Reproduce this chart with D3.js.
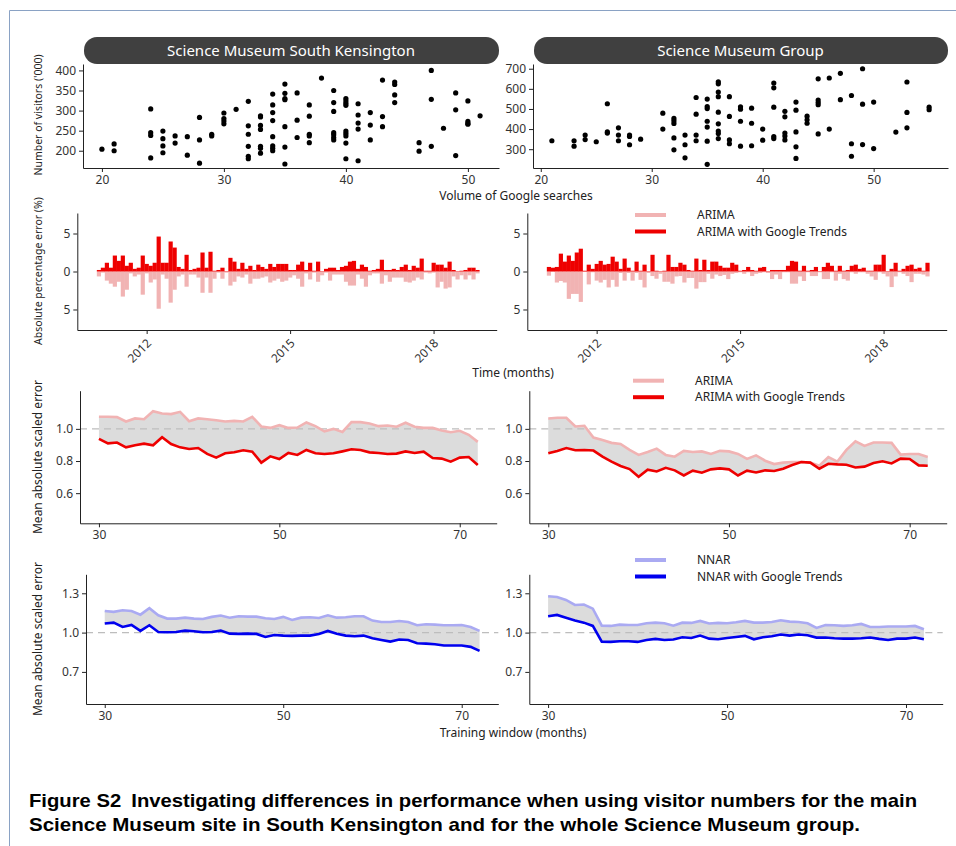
<!DOCTYPE html>
<meta charset="utf-8">
<style>
body { margin: 0; background: #fff; }
text { font-family: "Noto Sans", sans-serif; }
.axis path, .axis line { stroke: #222; }
.axis text { font-size: 12px; fill: #333; font-family: "Noto Sans", sans-serif; }
.title { font-size: 12px; fill: #222; }
.title.small { font-size: 10.5px; }
.legend { font-size: 12px; fill: #222; }
.strip { font-size: 15px; fill: #fff; }
.caption { font-family: "Liberation Sans", sans-serif; font-weight: bold; font-size: 18.5px; fill: #000; }
</style>
<body>
<script src="https://d3js.org/d3.v7.min.js"></script>
<script>

var width = 956, height = 846;

// [volume of Google searches, visitors ('000)]
var skPoints = [[20,204],[21,217],[21,200],[24,304],[24,245],[24,238],[24,182],[25,249],[25,230],[25,212],[25,195],
  [26,237],[26,219],[27,235],[27,189],[28,283],[28,227],[28,169],[29,241],[29,237],[30,294],[30,280],[30,274],[30,267],
  [31,303],[32,323],[32,262],[32,241],[32,211],[32,186],[32,180],[33,287],[33,284],[33,263],[33,253],[33,211],[33,206],[33,194],
  [34,341],[34,314],[34,295],[34,275],[34,235],[34,212],[34,206],[34,200],[35,366],[35,343],[35,330],[35,327],[35,260],[35,209],[35,167],
  [36,344],[36,276],[36,233],[37,314],[37,286],[37,241],[37,237],[37,220],[38,381],
  [39,350],[39,320],[39,298],[39,245],[39,240],[39,233],[39,227],[40,330],[40,324],[40,318],[40,313],[40,249],[40,243],[40,237],[40,219],[40,180],
  [41,317],[41,289],[41,269],[41,254],[41,175],[42,295],[42,264],[42,227],[43,376],[43,285],[43,260],[44,371],[44,365],[44,339],[44,320],
  [46,220],[46,199],[47,400],[47,328],[47,211],[48,256],[49,344],[49,302],[49,188],[50,324],[50,273],[50,268],[50,266],[51,287]];

var groupPoints = [[21,342],[23,342],[23,315],[24,370],[24,348],[25,337],[26,526],[26,386],[26,380],[27,406],[27,370],[27,342],
  [28,370],[28,363],[28,322],[29,350],[31,479],[31,400],[32,453],[32,441],[32,428],[32,356],[32,297],[33,370],[33,322],[33,257],
  [34,557],[34,474],[34,370],[34,342],[35,549],[35,512],[35,502],[35,439],[35,410],[35,340],[35,225],
  [36,635],[36,625],[36,584],[36,561],[36,484],[36,426],[36,390],[36,378],[36,353],[37,561],[37,463],[37,346],[37,327],
  [38,511],[38,499],[38,439],[38,315],[39,504],[39,429],[39,317],[40,400],[40,345],[41,629],[41,605],[41,509],[41,363],[41,353],
  [42,488],[42,461],[42,380],[42,365],[42,346],[43,534],[43,494],[43,386],[43,312],[43,254],[44,464],[44,446],[44,429],
  [45,650],[45,544],[45,532],[45,521],[45,376],[46,654],[46,400],[47,677],[47,546],[48,567],[48,327],[48,265],
  [49,700],[49,524],[49,323],[50,534],[50,303],[52,385],[53,634],[53,483],[53,406],[55,509],[55,496]];

// monthly absolute percentage error, Jan 2011 .. Dec 2018
var skArima = [0.65,0.15,1.2,1.6,2.0,1.35,3.3,2.4,0.25,0.65,0.4,3.05,
  0.25,1.45,1.05,4.9,0.4,0.95,4.1,2.4,0.65,0.4,2.0,0.4,
  0.4,0.8,2.8,0.8,2.8,0.95,0.15,0.95,0.15,1.85,1.35,0.65,
  0.8,0.4,1.6,0.95,0.95,0.8,0.65,1.45,1.2,0.95,1.35,1.2,
  0.8,0.5,0.95,2.0,0.25,1.05,0.15,1.35,0.5,0.15,1.2,0.4,
  0.4,0.4,1.35,1.85,1.85,0.4,0.95,2.0,0.5,0.25,0.25,1.6,
  0.5,1.35,0.8,0.8,0.8,1.35,1.45,1.2,0.8,1.05,0.15,0.25,
  0.15,2.1,1.35,2.25,2.1,0.65,1.05,0.5,1.05,0.5,1.05,0.25];
var skArimaGT = [0.2,0.5,1.15,0.5,2.1,1.4,2.1,0.75,1.15,0.35,0.5,2.1,
  1.0,0.75,1.15,4.6,1.15,1.15,3.95,3.15,0.6,0.35,2.2,0.2,
  0.35,0.5,2.5,0.5,2.6,0.1,0.2,0.5,0.05,1.8,1.3,0.35,
  1.15,0.35,0.75,0.2,0.9,0.6,0.35,1.0,0.6,1.0,1.0,1.0,
  0.2,0.2,0.9,1.3,0.2,1.15,0.1,1.3,0.05,0.35,0.5,0.5,
  0.2,0.6,0.75,1.3,1.4,0.35,0.9,0.6,0.1,0.2,0.35,1.55,
  0.2,0.2,0.35,0.2,0.6,0.9,0.2,0.75,0.5,1.7,0.1,0.1,
  1.15,0.9,0.9,0.5,1.3,0.2,0.05,0.1,0.2,0.5,0.5,0.2];
var groupArima = [0.55,0.05,1.45,1.25,1.45,3.6,2.95,2.95,4.0,0.05,1.7,0.1,
  1.2,1.45,1.1,2.1,1.1,2.0,0.2,1.2,0.2,1.2,0.2,1.1,
  2.1,0.2,0.6,0.95,0.3,1.35,1.35,1.6,0.65,0.6,1.45,0.85,
  0.85,2.25,1.4,1.4,0.3,0.95,0.4,0.6,0.45,1.0,0.3,0.2,
  0.1,0.3,0.1,0.6,0.3,0.2,0.1,0.2,1.0,0.4,1.0,0.1,
  0.1,1.6,1.6,0.65,1.25,0.1,0.6,0.6,0.1,1.0,1.0,0.1,
  1.2,0.3,1.0,1.2,0.1,0.3,0.1,0.1,0.3,0.65,1.1,0.1,
  0.3,0.65,2.05,0.65,0.1,0.3,0.6,1.4,0.3,0.3,0.4,0.65];
var groupArimaGT = [0.6,0.5,0.6,2.35,1.3,2.1,1.4,2.5,3.0,0.1,0.9,0.35,
  1.0,1.4,0.9,1.0,1.95,1.3,0.35,1.7,0.5,0.1,1.3,0.1,
  0.9,0.05,2.2,0.1,0.05,0.1,2.2,0.6,0.6,1.15,0.9,0.2,
  0.1,1.7,0.2,1.55,0.2,1.3,1.3,0.75,0.5,0.5,1.15,0.9,
  0.1,0.2,0.6,0.2,0.1,0.5,0.6,0.05,0.2,0.2,0.2,0.2,
  0.75,1.4,1.3,0.1,0.75,0.1,0.2,0.6,0.05,0.6,1.15,0.75,
  0.1,0.75,0.1,0.2,0.75,0.9,0.35,0.5,0.1,0.1,0.9,0.9,
  2.2,0.05,0.35,1.15,0.1,0.35,0.75,0.9,0.35,0.5,0.1,1.15];

// mean absolute scaled error by training window (30..72 months)
var windows = d3.range(30, 73);
var skMase = [1.075,1.075,1.073,1.046,1.065,1.06,1.11,1.096,1.092,1.106,1.048,1.065,1.06,1.054,1.046,1.05,1.046,1.075,1.015,1.006,
  1.023,1.006,1.008,1.04,1.017,0.985,1.0,0.981,1.042,1.042,1.033,1.017,1.021,1.013,1.038,1.013,1.006,1.006,0.99,0.979,0.988,0.963,0.919];
var skMaseGT = [0.938,0.91,0.915,0.885,0.898,0.908,0.898,0.948,0.906,0.885,0.875,0.881,0.844,0.821,0.848,0.854,0.867,0.858,0.79,0.829,
  0.812,0.85,0.838,0.869,0.848,0.844,0.848,0.86,0.873,0.869,0.854,0.85,0.844,0.846,0.86,0.85,0.858,0.819,0.815,0.796,0.821,0.825,0.775];
var groupMase = [1.065,1.069,1.069,1.015,1.019,0.946,0.931,0.913,0.906,0.869,0.838,0.856,0.877,0.838,0.827,0.863,0.856,0.86,0.844,0.863,
  0.86,0.844,0.813,0.835,0.802,0.781,0.79,0.794,0.794,0.79,0.771,0.825,0.796,0.869,0.923,0.894,0.915,0.915,0.913,0.84,0.844,0.844,0.825];
var groupMaseGT = [0.848,0.863,0.881,0.867,0.869,0.865,0.827,0.796,0.769,0.75,0.702,0.746,0.735,0.758,0.742,0.71,0.74,0.727,0.748,0.754,
  0.748,0.71,0.74,0.729,0.742,0.738,0.752,0.775,0.794,0.79,0.752,0.783,0.779,0.777,0.76,0.765,0.788,0.798,0.785,0.815,0.813,0.773,0.771];
var skNnar = [1.165,1.158,1.17,1.165,1.137,1.186,1.132,1.107,1.107,1.114,1.107,1.104,1.12,1.13,1.114,1.125,1.122,1.122,1.109,1.104,
  1.12,1.097,1.114,1.117,1.112,1.132,1.114,1.117,1.125,1.125,1.092,1.081,1.081,1.089,1.081,1.056,1.064,1.061,1.056,1.056,1.058,1.043,1.013];
var skNnarGT = [1.069,1.076,1.043,1.058,1.013,1.056,1.005,1.003,1.005,1.015,1.01,1.003,1.005,1.015,0.992,0.99,0.992,0.99,0.967,0.982,
  0.977,0.975,0.977,0.977,0.99,1.013,0.992,0.977,0.972,0.977,0.957,0.944,0.931,0.947,0.944,0.919,0.916,0.911,0.901,0.901,0.901,0.891,0.86];
var groupNnar = [1.277,1.272,1.249,1.211,1.214,1.183,1.053,1.051,1.061,1.058,1.058,1.071,1.076,1.071,1.053,1.076,1.074,1.089,1.069,1.074,
  1.071,1.079,1.089,1.076,1.076,1.081,1.094,1.084,1.081,1.071,1.036,1.058,1.056,1.051,1.056,1.066,1.043,1.043,1.046,1.046,1.046,1.051,1.025];
var groupNnarGT = [1.125,1.135,1.114,1.092,1.076,1.051,0.931,0.929,0.934,0.934,0.929,0.944,0.952,0.944,0.947,0.964,0.959,0.977,0.954,0.949,
  0.959,0.967,0.975,0.949,0.964,0.972,0.985,0.977,0.985,0.98,0.962,0.962,0.957,0.954,0.954,0.957,0.962,0.952,0.944,0.954,0.954,0.962,0.949];

var stripTitles = ["Science Museum South Kensington", "Science Museum Group"];
var yearTicks = [2012, 2015, 2018];
var windowTicks = [30, 50, 70];
var arimaLabels = ["ARIMA", "ARIMA with Google Trends"];
var nnarLabels = ["NNAR", "NNAR with Google Trends"];
var captionLines = ["Figure S2\u2002Investigating differences in performance when using visitor numbers for the main",
  "Science Museum site in South Kensington and for the whole Science Museum group."];

var red = "#ee0000", pink = "#f1b3b3", blue = "#0000ee", lightBlue = "#aaaaf2";

var svg = d3.select("body").append("svg")
    .attr("width", width)
    .attr("height", height);

// page frame
svg.append("path")
  .attr("d", "M9.5," + height + "V10.5H" + width)
  .attr("fill", "none")
  .attr("stroke", "#8aa2c4");

function leftAxis(x0, y, ticks, fmt) {
  svg.append("g").attr("class", "axis")
    .attr("transform", "translate(" + x0 + ",0)")
    .call(d3.axisLeft(y).tickValues(ticks).tickFormat(fmt).tickSize(4).tickSizeOuter(0));
}
function bottomAxis(y0, x, ticks, fmt) {
  return svg.append("g").attr("class", "axis")
    .attr("transform", "translate(0," + y0 + ")")
    .call(d3.axisBottom(x).tickValues(ticks).tickFormat(fmt).tickSize(4).tickSizeOuter(0));
}

function scatter(points, box, xDom, yDom, yTicks, xTicks, title) {
  var x = d3.scaleLinear().domain(xDom).range([box.x0, box.x1]);
  var y = d3.scaleLinear().domain(yDom).range([box.y1, box.y0]);
  svg.append("rect")
    .attr("x", box.x0 + 1).attr("y", 37)
    .attr("width", box.x1 - box.x0 - 1).attr("height", 27)
    .attr("rx", 13)
    .attr("fill", "#404040");
  svg.append("text").attr("class", "strip")
    .attr("x", (box.x0 + box.x1) / 2).attr("y", 50.5)
    .attr("dy", "0.35em").attr("text-anchor", "middle")
    .text(title);
  leftAxis(box.x0, y, yTicks, d3.format("d"));
  bottomAxis(box.y1, x, xTicks, d3.format("d"));
  svg.append("g").selectAll("circle")
    .data(points)
    .enter().append("circle")
    .attr("cx", function(d){ return x(d[0]); })
    .attr("cy", function(d){ return y(d[1]); })
    .attr("r", 2.6)
    .attr("fill", "#000");
}

function bars(down, up, box) {
  var x = d3.scaleLinear().domain([2010.55, 2019.32]).range([box.x0, box.x1]);
  var y = d3.scaleLinear().domain([-7.7, 7.7]).range([box.y1, box.y0]);
  var t = function(i){ return 2011 + i / 12; };
  var w = x(t(1)) - x(t(0));
  svg.append("g").selectAll("rect")
    .data(down)
    .enter().append("rect")
    .attr("x", function(d, i){ return x(t(i)) - w / 2; })
    .attr("y", y(0))
    .attr("width", w + 0.2)
    .attr("height", function(d){ return y(-d) - y(0); })
    .attr("fill", pink);
  svg.append("g").selectAll("rect")
    .data(up)
    .enter().append("rect")
    .attr("x", function(d, i){ return x(t(i)) - w / 2; })
    .attr("y", function(d){ return y(d); })
    .attr("width", w + 0.2)
    .attr("height", function(d){ return y(0) - y(d); })
    .attr("fill", red);
  leftAxis(box.x0, y, [-5, 0, 5], function(d){ return Math.abs(d); });
  bottomAxis(box.y1, x, yearTicks, d3.format("d"))
    .selectAll(".tick text")
    .attr("y", 0).attr("dy", 0)
    .attr("text-anchor", "end")
    .attr("transform", "translate(5,14) rotate(-45)");
}

function lines(base, gt, box, yDom, yTicks, colors) {
  var x = d3.scaleLinear().domain([27.9, 74.1]).range([box.x0, box.x1]);
  var y = d3.scaleLinear().domain(yDom).range([box.y1, box.y0]);
  var area = d3.area()
    .x(function(d, i){ return x(windows[i]); })
    .y0(function(d, i){ return y(gt[i]); })
    .y1(function(d){ return y(d); });
  var line = d3.line().x(function(d, i){ return x(windows[i]); }).y(function(d){ return y(d); });
  svg.append("path").datum(base).attr("d", area).attr("fill", "#dcdcdc");
  svg.append("line")
    .attr("x1", box.x0).attr("x2", box.x1)
    .attr("y1", y(1)).attr("y2", y(1))
    .attr("stroke", "#bdbdbd").attr("stroke-width", 1.4)
    .attr("stroke-dasharray", "7,5");
  svg.append("path").datum(base).attr("d", line)
    .attr("fill", "none").attr("stroke", colors[0]).attr("stroke-width", 2.6);
  svg.append("path").datum(gt).attr("d", line)
    .attr("fill", "none").attr("stroke", colors[1]).attr("stroke-width", 2.6);
  leftAxis(box.x0, y, yTicks, d3.format(".1f"));
  bottomAxis(box.y1, x, windowTicks, d3.format("d"));
}

function legend(x0, y0, labels, colors) {
  labels.forEach(function(label, i){
    var yy = y0 + i * 16.5;
    svg.append("line")
      .attr("x1", x0).attr("x2", x0 + 31)
      .attr("y1", yy).attr("y2", yy)
      .attr("stroke", colors[i]).attr("stroke-width", 4);
    svg.append("text").attr("class", "legend")
      .attr("x", x0 + 62).attr("y", yy).attr("dy", "0.35em")
      .text(label);
  });
}

function yTitle(x, y, label, cls) {
  svg.append("text").attr("class", "title" + (cls ? " " + cls : ""))
    .attr("transform", "translate(" + x + "," + y + ") rotate(-90)")
    .attr("text-anchor", "middle")
    .text(label);
}
function xTitle(x, y, label) {
  svg.append("text").attr("class", "title")
    .attr("x", x).attr("y", y)
    .attr("text-anchor", "middle")
    .text(label);
}

// row 1: visitors vs searches
scatter(skPoints, {x0: 83, x1: 499, y0: 64, y1: 168}, [18.45, 52.55], [157, 416],
  [200, 250, 300, 350, 400], [20, 30, 40, 50], stripTitles[0]);
scatter(groupPoints, {x0: 533, x1: 948, y0: 64, y1: 168}, [19.3, 56.7], [206.5, 723.5],
  [300, 400, 500, 600, 700], [20, 30, 40, 50], stripTitles[1]);
yTitle(42, 115, "Number of visitors ('000)", "small");
xTitle(516, 200, "Volume of Google searches");

// row 2: monthly errors
bars(skArima, skArimaGT, {x0: 77.3, x1: 496.7, y0: 213, y1: 330});
bars(groupArima, groupArimaGT, {x0: 527.3, x1: 946.7, y0: 213, y1: 330});
legend(635, 215, arimaLabels, [pink, red]);
yTitle(42, 271, "Absolute percentage error (%)", "small");
xTitle(513, 377, "Time (months)");

// row 3: ARIMA MASE
lines(skMase, skMaseGT, {x0: 80, x1: 496.7, y0: 390.7, y1: 523.3}, [0.4125, 1.2375], [0.6, 0.8, 1.0], [pink, red]);
lines(groupMase, groupMaseGT, {x0: 529.3, x1: 946.7, y0: 390.7, y1: 523.3}, [0.4125, 1.2375], [0.6, 0.8, 1.0], [pink, red]);
legend(633, 380.7, arimaLabels, [pink, red]);
yTitle(42, 457, "Mean absolute scaled error");

// row 4: NNAR MASE
lines(skNnar, skNnarGT, {x0: 86, x1: 498.3, y0: 574.3, y1: 704}, [0.455, 1.445], [0.7, 1.0, 1.3], [lightBlue, blue]);
lines(groupNnar, groupNnarGT, {x0: 529.3, x1: 942.7, y0: 574.3, y1: 704}, [0.455, 1.445], [0.7, 1.0, 1.3], [lightBlue, blue]);
legend(635, 560, nnarLabels, [lightBlue, blue]);
yTitle(42, 639, "Mean absolute scaled error");
xTitle(513, 737, "Training window (months)");

// caption
svg.append("text").attr("class", "caption")
  .attr("x", 29).attr("y", 807)
  .attr("textLength", 888).attr("lengthAdjust", "spacingAndGlyphs")
  .text(captionLines[0]);
svg.append("text").attr("class", "caption")
  .attr("x", 29).attr("y", 831)
  .attr("textLength", 831).attr("lengthAdjust", "spacingAndGlyphs")
  .text(captionLines[1]);

</script>
</body>
